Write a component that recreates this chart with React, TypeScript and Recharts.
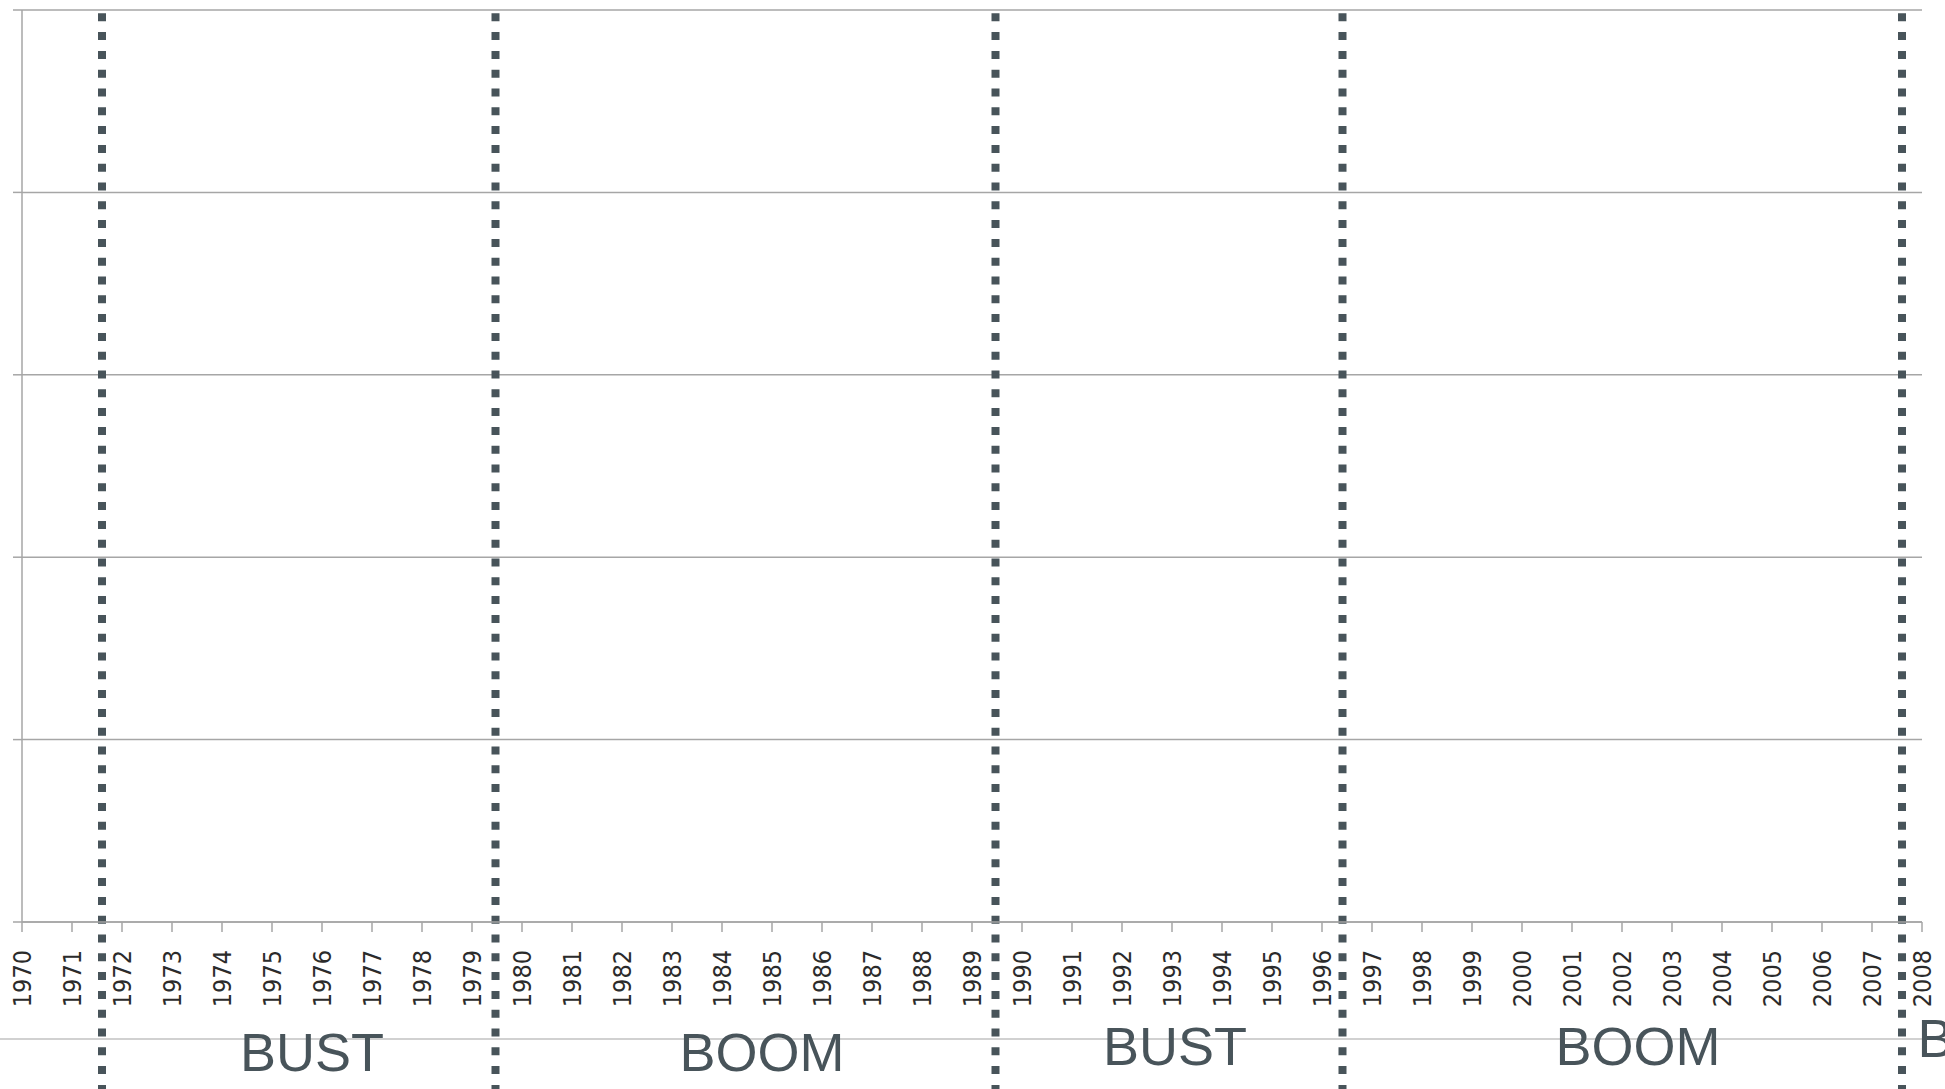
import React from 'react';
import {
  ComposedChart,
  XAxis,
  YAxis,
  CartesianGrid,
  ReferenceLine,
  ReferenceDot,
  Customized,
} from 'recharts';

// ---------- data ----------
const YEARS = [
  1970, 1971, 1972, 1973, 1974, 1975, 1976, 1977, 1978, 1979,
  1980, 1981, 1982, 1983, 1984, 1985, 1986, 1987, 1988, 1989,
  1990, 1991, 1992, 1993, 1994, 1995, 1996, 1997, 1998, 1999,
  2000, 2001, 2002, 2003, 2004, 2005, 2006, 2007, 2008,
];
const Y_TICKS = [0, 1, 2, 3, 4, 5];
// boundaries between boom and bust phases (fractional years)
const CYCLE_BREAKS = [1971.6, 1979.47, 1989.47, 1996.41, 2007.6];
const PHASE_NAMES = ['BUST', 'BOOM', 'BUST', 'BOOM', 'BUST'];
const PHASE_CENTERS = [1975.8, 1984.8, 1993.06, 2002.32, 2009.35];

// ---------- layout / style ----------
const W = 1945;
const H = 1089;
const LABEL_DY = [149, 149, 143, 143, 135];
const DARK = '#48545a';
const GRID = '#a6a6a6';

const chartData = YEARS.map((year) => ({ year }));

const YearTick = (props: any) => {
  const { x, y, payload } = props;
  return (
    <text
      x={x}
      y={y}
      transform={`rotate(-90 ${x} ${y})`}
      textAnchor="end"
      dominantBaseline="central"
      fontFamily="'DejaVu Sans Condensed', 'DejaVu Sans', sans-serif"
      fontStretch="condensed"
      fontSize={25}
      fill="#2b2b2b"
    >
      {payload.value}
    </text>
  );
};

const NoTick = () => <g />;

const makePhaseShape = (name: string, dy: number) => (props: any) => (
  <text
    x={props.cx}
    y={props.cy + dy}
    textAnchor="middle"
    fontFamily="'Liberation Sans', Arial, sans-serif"
    fontSize={54}
    fill={DARK}
  >
    {name}
  </text>
);

const Divider = () => (
  <line x1={0} x2={W} y1={1039} y2={1039} stroke="#c2c2c2" strokeWidth={1.5} />
);

export default function App() {
  return (
    <div
      style={{
        position: 'fixed',
        left: 0,
        top: 0,
        width: W,
        height: H,
        overflow: 'hidden',
        background: '#ffffff',
      }}
    >
      <ComposedChart
        width={W}
        height={H}
        data={chartData}
        margin={{ top: 10, right: 23, left: 0, bottom: 0 }}
      >
        <CartesianGrid horizontal vertical={false} stroke={GRID} strokeWidth={1.5} />
        <XAxis
          dataKey="year"
          type="number"
          domain={[1970, 2008]}
          ticks={YEARS}
          interval={0}
          allowDataOverflow
          height={167}
          tickSize={10}
          tickMargin={18}
          tick={<YearTick />}
          axisLine={{ stroke: GRID, strokeWidth: 1.5 }}
          tickLine={{ stroke: GRID, strokeWidth: 1.5 }}
        />
        <YAxis
          type="number"
          domain={[0, 5]}
          ticks={Y_TICKS}
          allowDataOverflow
          width={22}
          tickSize={9}
          tick={NoTick}
          axisLine={{ stroke: GRID, strokeWidth: 1.5 }}
          tickLine={{ stroke: GRID, strokeWidth: 1.5 }}
        />
        <Customized component={Divider} />
        {CYCLE_BREAKS.map((b) => (
          <ReferenceLine
            key={b}
            segment={[
              { x: b, y: 4.982 },
              { x: b, y: -1 },
            ]}
            ifOverflow="visible"
            stroke={DARK}
            strokeWidth={8}
            strokeDasharray="8 10.8"
          />
        ))}
        {PHASE_NAMES.map((name, i) => (
          <ReferenceDot
            key={`${name}-${i}`}
            x={PHASE_CENTERS[i]}
            y={0}
            r={0}
            ifOverflow="visible"
            shape={makePhaseShape(name, LABEL_DY[i])}
          />
        ))}
      </ComposedChart>
    </div>
  );
}
